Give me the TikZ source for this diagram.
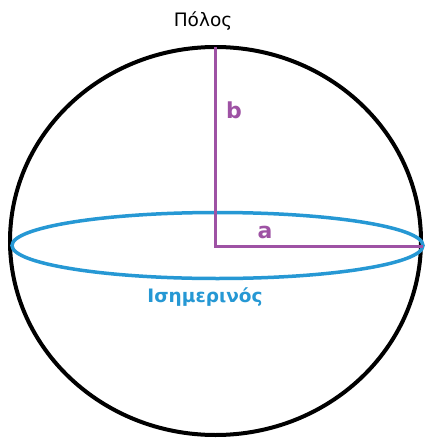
\documentclass[tikz,border=0pt]{standalone}
\usepackage{fontspec}
\setmainfont{DejaVu Sans}
\definecolor{purp}{RGB}{158,82,164}
\definecolor{eqblue}{RGB}{38,152,212}
\begin{document}
\begin{tikzpicture}[x=1pt,y=-1pt,
  sphere/.style={draw=black,line width=4pt},
  equator/.style={draw=eqblue,line width=3.5pt},
  axisline/.style={draw=purp,line width=3pt},
  lbl/.style={inner sep=0pt,anchor=base}]
\useasboundingbox (0,0) rectangle (425,442);
\fill[white] (0,0) rectangle (425,442);
\draw[sphere] (215.5,241) ellipse [x radius=205.5, y radius=194];
\draw[equator] (217.5,245.5) ellipse [x radius=205.5, y radius=33];
\coordinate (pole) at (215,47);
\coordinate (ctr) at (215,246);
\coordinate (eqr) at (423,246);
\draw[axisline] (pole) -- (ctr) -- (eqr);
\node[lbl,text=black] (polos) at (203,26) {\fontsize{18.5}{20}\selectfont Πόλος};
\node[lbl,text=purp] (lb) at (234,118) {\fontsize{22}{24}\selectfont\bfseries b};
\node[lbl,text=purp] (la) at (265,238) {\fontsize{22}{24}\selectfont\bfseries a};
\node[lbl,text=eqblue] (isim) at (205,302) {\fontsize{18.5}{20}\selectfont\bfseries Ισημερινός};
\end{tikzpicture}
\end{document}
